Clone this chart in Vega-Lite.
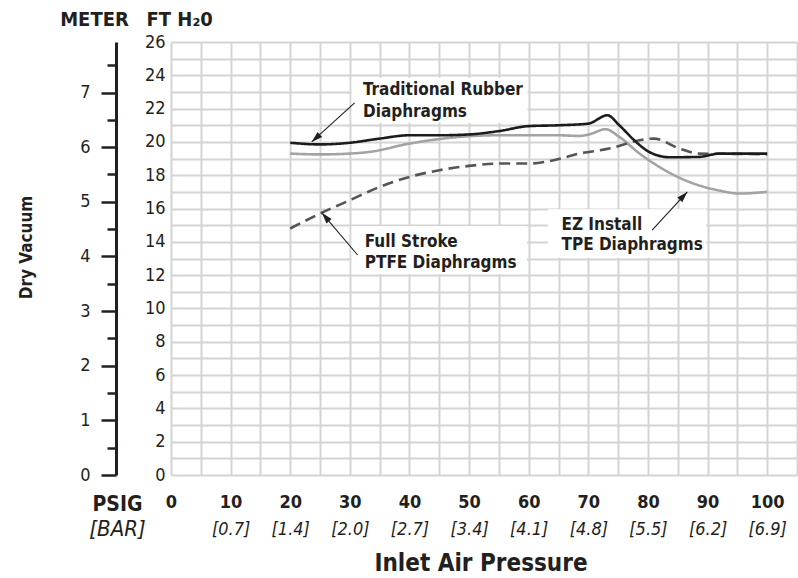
{
  "$schema": "https://vega.github.io/schema/vega-lite/v6.json",
  "width": 626,
  "height": 433,
  "autosize": "none",
  "padding": {"left": 171, "top": 42, "right": 1, "bottom": 103},
  "background": "white",
  "config": {
    "view": {"stroke": null},
    "font": "DejaVu Sans Condensed, sans-serif",
    "axis": {"labelColor": "#231f20", "titleColor": "#231f20", "labelFont": "DejaVu Sans Condensed, sans-serif", "titleFont": "DejaVu Sans Condensed, sans-serif"}
  },
  "title": {"text": "Inlet Air Pressure", "orient": "bottom", "anchor": "middle", "frame": "group", "fontSize": 24, "fontWeight": "bold", "color": "#231f20", "font": "DejaVu Sans Condensed, sans-serif", "offset": 13, "dx": -3},
  "layer": [
    {
      "data": {"values": [{"p": 0, "v": 0}]},
      "mark": {"type": "point", "opacity": 0},
      "encoding": {
        "x": {"field": "p", "type": "quantitative", "scale": {"domain": [0, 105], "nice": false, "zero": true},
          "axis": {"orient": "bottom", "values": [0,5,10,15,20,25,30,35,40,45,50,55,60,65,70,75,80,85,90,95,100,105], "tickCount": 100,
            "grid": false, "domain": false, "labels": false, "ticks": true, "tickSize": -433, "tickColor": "#d4d4d4", "tickWidth": 2, "title": null, "zindex": 0}},
        "y": {"field": "v", "type": "quantitative", "scale": {"domain": [0, 26], "nice": false, "zero": true},
          "axis": {"orient": "left", "values": [0,1,2,3,4,5,6,7,8,9,10,11,12,13,14,15,16,17,18,19,20,21,22,23,24,25,26], "tickCount": 100,
            "grid": false, "domain": false, "labels": false, "ticks": true, "tickSize": -626, "tickColor": "#d4d4d4", "tickWidth": 2, "title": null, "zindex": 0}}
      }
    },
    {
      "data": {"values": [
        {"p": 30.3, "p2": 59.8, "v": 21.15, "v2": 23.85},
        {"p": 30.3, "p2": 59.7, "v": 12.05, "v2": 14.95},
        {"p": 63.2, "p2": 89.8, "v": 13.05, "v2": 15.95}
      ]},
      "mark": {"type": "rect", "fill": "white", "stroke": null},
      "encoding": {
        "x": {"field": "p", "type": "quantitative",
          "axis": {"orient": "bottom", "values": [0,10,20,30,40,50,60,70,80,90,100], "tickCount": 100, "format": "d",
            "grid": false, "domain": false, "ticks": false,
            "labelFontSize": 18, "labelFontWeight": "bold", "labelPadding": 18, "labelOverlap": false, "labelFlush": false,
            "title": "PSIG", "titleFontSize": 21, "titleFontWeight": "bold", "titleAngle": 0, "titleAlign": "center", "titleBaseline": "alphabetic", "titleX": -54, "titleY": 35}},
        "x2": {"field": "p2"},
        "y": {"field": "v", "type": "quantitative",
          "axis": {"orient": "left", "values": [0,2,4,6,8,10,12,14,16,18,20,22,24,26], "tickCount": 100, "format": "d",
            "grid": false, "domain": false, "ticks": false,
            "labelFontSize": 18, "labelPadding": 6, "labelBaseline": "middle", "labelOverlap": false, "labelFlush": false,
            "title": "FT H₂0", "titleFontSize": 20, "titleFontWeight": "bold", "titleAngle": 0, "titleAlign": "left", "titleBaseline": "alphabetic", "titleX": -25, "titleY": -17}},
        "y2": {"field": "v2"}
      }
    },
    {
      "data": {"values": [
        {"s": "TPE", "p": 20, "v": 19.3}, {"s": "TPE", "p": 25, "v": 19.25}, {"s": "TPE", "p": 30, "v": 19.3}, {"s": "TPE", "p": 33.3, "v": 19.4},
        {"s": "TPE", "p": 40, "v": 19.9}, {"s": "TPE", "p": 48.4, "v": 20.3}, {"s": "TPE", "p": 55, "v": 20.4}, {"s": "TPE", "p": 60, "v": 20.4},
        {"s": "TPE", "p": 65, "v": 20.4}, {"s": "TPE", "p": 68.5, "v": 20.36}, {"s": "TPE", "p": 70.2, "v": 20.46}, {"s": "TPE", "p": 72.9, "v": 20.76},
        {"s": "TPE", "p": 75.2, "v": 20.3}, {"s": "TPE", "p": 78.6, "v": 19.3}, {"s": "TPE", "p": 81.9, "v": 18.5}, {"s": "TPE", "p": 86.9, "v": 17.6},
        {"s": "TPE", "p": 92, "v": 17.08}, {"s": "TPE", "p": 95.3, "v": 16.9}, {"s": "TPE", "p": 100, "v": 17.0},
        {"s": "PTFE", "p": 20, "v": 14.8}, {"s": "PTFE", "p": 25, "v": 15.7}, {"s": "PTFE", "p": 30, "v": 16.5}, {"s": "PTFE", "p": 35, "v": 17.3},
        {"s": "PTFE", "p": 40, "v": 17.9}, {"s": "PTFE", "p": 45, "v": 18.3}, {"s": "PTFE", "p": 50, "v": 18.56}, {"s": "PTFE", "p": 55, "v": 18.7},
        {"s": "PTFE", "p": 60, "v": 18.7}, {"s": "PTFE", "p": 63.5, "v": 18.85}, {"s": "PTFE", "p": 68.5, "v": 19.3}, {"s": "PTFE", "p": 73.5, "v": 19.6},
        {"s": "PTFE", "p": 78.6, "v": 20.1}, {"s": "PTFE", "p": 81, "v": 20.2}, {"s": "PTFE", "p": 85.3, "v": 19.6}, {"s": "PTFE", "p": 88.6, "v": 19.3},
        {"s": "PTFE", "p": 95.3, "v": 19.28}, {"s": "PTFE", "p": 100, "v": 19.25},
        {"s": "Rubber", "p": 20, "v": 19.95}, {"s": "Rubber", "p": 25, "v": 19.85}, {"s": "Rubber", "p": 30, "v": 19.95}, {"s": "Rubber", "p": 35, "v": 20.2},
        {"s": "Rubber", "p": 40, "v": 20.4}, {"s": "Rubber", "p": 45, "v": 20.4}, {"s": "Rubber", "p": 50, "v": 20.45}, {"s": "Rubber", "p": 55, "v": 20.65},
        {"s": "Rubber", "p": 60, "v": 20.95}, {"s": "Rubber", "p": 65, "v": 21.0}, {"s": "Rubber", "p": 70, "v": 21.1}, {"s": "Rubber", "p": 73.2, "v": 21.6},
        {"s": "Rubber", "p": 75.2, "v": 21.0}, {"s": "Rubber", "p": 77.7, "v": 20.1}, {"s": "Rubber", "p": 80.2, "v": 19.4}, {"s": "Rubber", "p": 83.6, "v": 19.08},
        {"s": "Rubber", "p": 88.6, "v": 19.1}, {"s": "Rubber", "p": 92, "v": 19.3}, {"s": "Rubber", "p": 96, "v": 19.3}, {"s": "Rubber", "p": 100, "v": 19.3}
      ]},
      "mark": {"type": "line", "interpolate": "monotone", "strokeWidth": 2.6},
      "encoding": {
        "x": {"field": "p", "type": "quantitative", "axis": null},
        "y": {"field": "v", "type": "quantitative", "axis": null},
        "color": {"field": "s", "type": "nominal", "scale": {"domain": ["TPE", "PTFE", "Rubber"], "range": ["#a3a3a3", "#555555", "#1c1c1c"]}, "legend": null},
        "strokeDash": {"field": "s", "type": "nominal", "scale": {"domain": ["TPE", "PTFE", "Rubber"], "range": [[1, 0], [11, 6], [1, 0]]}, "legend": null}
      }
    },
    {
      "data": {"values": [
        {"p": 30.8, "v": 22.34, "p2": 23.6, "v2": 20.0},
        {"p": 31.3, "v": 13.21, "p2": 25.3, "v2": 15.74},
        {"p": 80.7, "v": 14.71, "p2": 86.6, "v2": 17.0}
      ]},
      "mark": {"type": "rule", "color": "#231f20", "strokeWidth": 1.1},
      "encoding": {
        "x": {"field": "p", "type": "quantitative", "axis": null},
        "y": {"field": "v", "type": "quantitative", "axis": null},
        "x2": {"field": "p2"},
        "y2": {"field": "v2"}
      }
    },
    {
      "data": {"values": [{"p": 23.6, "v": 20.0}]},
      "mark": {"type": "point", "shape": "M0,0L0.65,2.1L-0.65,2.1Z", "filled": true, "color": "#231f20", "opacity": 1, "size": 110, "angle": 228},
      "encoding": {"x": {"field": "p", "type": "quantitative", "axis": null}, "y": {"field": "v", "type": "quantitative", "axis": null}}
    },
    {
      "data": {"values": [{"p": 25.3, "v": 15.74}]},
      "mark": {"type": "point", "shape": "M0,0L0.65,2.1L-0.65,2.1Z", "filled": true, "color": "#231f20", "opacity": 1, "size": 110, "angle": 319},
      "encoding": {"x": {"field": "p", "type": "quantitative", "axis": null}, "y": {"field": "v", "type": "quantitative", "axis": null}}
    },
    {
      "data": {"values": [{"p": 86.6, "v": 17.0}]},
      "mark": {"type": "point", "shape": "M0,0L0.65,2.1L-0.65,2.1Z", "filled": true, "color": "#231f20", "opacity": 1, "size": 110, "angle": 43},
      "encoding": {"x": {"field": "p", "type": "quantitative", "axis": null}, "y": {"field": "v", "type": "quantitative", "axis": null}}
    },
    {
      "data": {"values": [
        {"t": "Traditional Rubber", "p": 32.2, "v": 22.82},
        {"t": "Diaphragms", "p": 32.2, "v": 21.5},
        {"t": "Full Stroke", "p": 32.5, "v": 13.69},
        {"t": "PTFE Diaphragms", "p": 32.5, "v": 12.43},
        {"t": "EZ Install", "p": 65.5, "v": 14.71},
        {"t": "TPE Diaphragms", "p": 65.5, "v": 13.51}
      ]},
      "mark": {"type": "text", "align": "left", "baseline": "alphabetic", "fontSize": 17, "fontWeight": "bold", "color": "#231f20"},
      "encoding": {
        "x": {"field": "p", "type": "quantitative", "axis": null},
        "y": {"field": "v", "type": "quantitative", "axis": null},
        "text": {"field": "t"}
      }
    },
    {
      "data": {"values": [{"p": 0, "v": 0}]},
      "mark": {"type": "point", "opacity": 0},
      "encoding": {
        "y": {"field": "v", "type": "quantitative",
          "axis": {"orient": "left", "offset": 55, "values": [0, 3.28084, 6.56168, 9.84252, 13.12336, 16.4042, 19.68504, 22.96588], "tickCount": 100, "grid": false,
            "labelExpr": "format(round(datum.value / 3.28084), 'd')",
            "domain": true, "domainColor": "#231f20", "domainWidth": 3, "ticks": true, "tickColor": "#231f20", "tickWidth": 2.5, "tickSize": 15,
            "labelFontSize": 18, "labelPadding": 11, "labelBaseline": "middle", "labelOverlap": false, "labelFlush": false,
            "title": "METER", "titleFontSize": 20, "titleFontWeight": "bold", "titleAngle": 0, "titleAlign": "center", "titleBaseline": "alphabetic", "titleX": -22, "titleY": -17}}
      }
    },
    {
      "data": {"values": [{"p": 0, "v": 0}]},
      "mark": {"type": "point", "opacity": 0},
      "encoding": {
        "x": {"field": "p", "type": "quantitative",
          "axis": {"orient": "bottom", "values": [10,20,30,40,50,60,70,80,90,100], "tickCount": 100,
            "labelExpr": "['','[0.7]','[1.4]','[2.0]','[2.7]','[3.4]','[4.1]','[4.8]','[5.5]','[6.2]','[6.9]'][round(datum.value/10)]",
            "grid": false, "domain": false, "ticks": false,
            "labelFontSize": 18, "labelFontStyle": "italic", "labelPadding": 45, "labelOverlap": false, "labelFlush": false,
            "title": "[BAR]", "titleFontSize": 22, "titleFontWeight": "normal", "titleFontStyle": "italic", "titleAngle": 0, "titleAlign": "center", "titleBaseline": "alphabetic", "titleX": -54, "titleY": 60}},
        "y": {"field": "v", "type": "quantitative",
          "axis": {"orient": "left", "offset": 55, "values": [1.64042, 4.92126, 8.2021, 11.48294, 14.76378, 18.04462, 21.32546, 24.6063], "tickCount": 100, "grid": false,
            "domain": false, "ticks": true, "tickColor": "#231f20", "tickWidth": 2.5, "tickSize": 9, "labels": false,
            "title": "Dry Vacuum", "titleFontSize": 17, "titleFontWeight": "bold", "titleAngle": -90, "titleAlign": "center", "titleBaseline": "alphabetic", "titleX": -85, "titleY": 205}}
      }
    }
  ],
  "resolve": {"axis": {"x": "independent", "y": "independent"}}
}
